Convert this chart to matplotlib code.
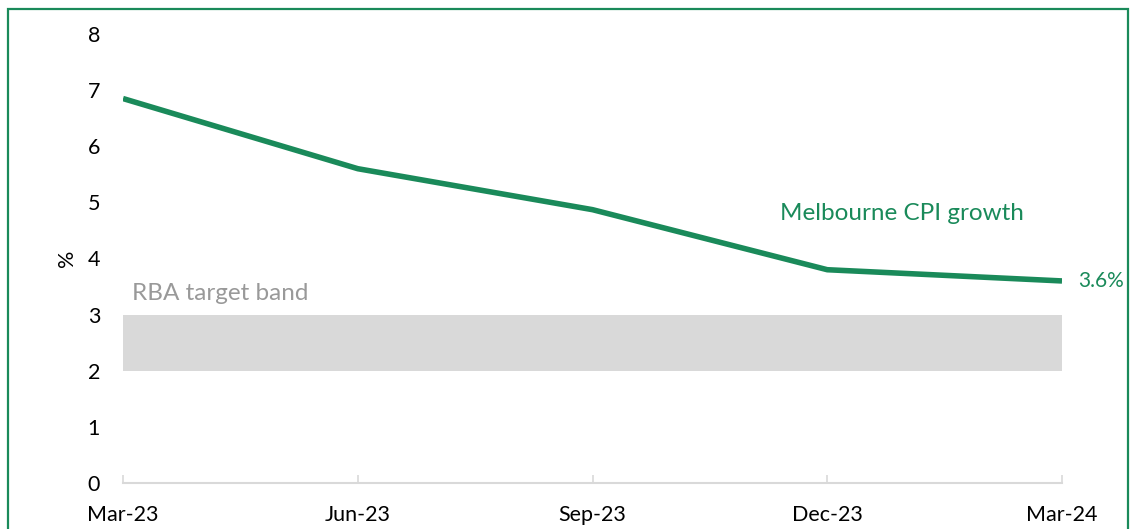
import matplotlib.pyplot as plt
from matplotlib.patches import Rectangle

plt.rcParams['font.family'] = ['Lato', 'DejaVu Sans']

quarters = ['Mar-23', 'Jun-23', 'Sep-23', 'Dec-23', 'Mar-24']
cpi_growth = [6.85, 5.6, 4.87, 3.8, 3.6]
band_low = 2
band_high = 3

green = '#1a8a5a'

fig = plt.figure(figsize=(11.31, 5.29), dpi=100)
ax = fig.add_axes([0.1088, 0.087, 0.8302, 0.8487])

x = list(range(len(quarters)))
ax.fill_between([x[0], x[-1]], band_low, band_high, color='#d9d9d9', linewidth=0)
ax.plot(x, cpi_growth, color=green, linewidth=4.0, solid_capstyle='butt')

ax.set_xlim(x[0], x[-1])
ax.set_ylim(0, 8)
ax.set_xticks(x)
ax.set_xticklabels(quarters)
ax.set_yticks(range(0, 9))

for s in ['top', 'right', 'left']:
    ax.spines[s].set_visible(False)
ax.spines['bottom'].set_color('#d9d9d9')
ax.spines['bottom'].set_linewidth(1.5)
ax.spines['bottom'].set_clip_on(False)

ax.tick_params(axis='x', direction='in', length=6, width=1.2, color='#d9d9d9',
               labelsize=15.5, pad=16)
ax.tick_params(axis='y', length=0, labelsize=15.5, pad=16.5)
ax.set_ylabel('%', fontsize=15.5, labelpad=8)

ax.text(x[-1] + 0.07, cpi_growth[-1], '3.6%', color=green, fontsize=15,
        va='center', ha='left', clip_on=False)
ax.text(2.8, 4.81, 'Melbourne CPI growth', color=green, fontsize=17.5,
        va='center', ha='left')
ax.text(0.04, 3.37, 'RBA target band', color='#999999', fontsize=17.5,
        va='center', ha='left')

border = Rectangle((8 / 1131, -0.05), (1128 - 8) / 1131, (529 - 9) / 529 + 0.05,
                   transform=fig.transFigure, fill=False, edgecolor=green,
                   linewidth=1.6, clip_on=False)
fig.patches.append(border)

fig.savefig('out.png', dpi=100)
